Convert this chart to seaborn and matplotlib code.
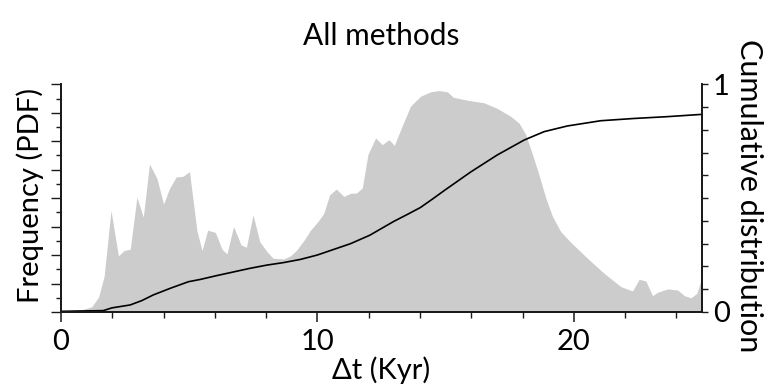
import numpy as np
import pandas as pd
import seaborn as sns
import matplotlib
matplotlib.use("Agg")
import matplotlib.pyplot as plt
from matplotlib.ticker import MultipleLocator, FixedLocator, NullFormatter

# ---- data ----
pdf_t = [0, 0.87, 1.2, 1.46, 1.68, 1.95, 2.24, 2.46, 2.70, 2.96, 3.21, 3.45, 3.74,
         4.0, 4.22, 4.49, 4.75, 5.01, 5.3, 5.5, 5.72, 6.02, 6.28, 6.47, 6.73, 7.02,
         7.23, 7.49, 7.75, 8.03, 8.27, 8.68, 8.95, 9.2, 9.47, 9.73, 9.99, 10.24,
         10.48, 10.74, 11.03, 11.29, 11.52, 11.75, 11.97, 12.27, 12.53, 12.79, 13.0,
         13.3, 13.63, 14.02, 14.41, 14.74, 15.07, 15.3, 15.85, 16.5, 17.02, 17.54,
         17.86, 18.13, 18.39, 18.64, 18.91, 19.17, 19.49, 19.88, 20.53, 21.18, 21.84,
         22.29, 22.55, 22.81, 23.07, 23.27, 23.66, 24.05, 24.31, 24.57, 24.8, 25.0]
pdf_v = [0.05, 0.19, 0.37, 1.03, 2.49, 7.13, 3.94, 4.32, 4.41, 8.07, 6.67, 10.4, 9.4,
         7.58, 8.64, 9.49, 9.53, 9.86, 5.73, 4.32, 5.75, 5.59, 4.41, 4.08, 6.01, 4.72,
         4.55, 6.83, 4.95, 4.25, 3.78, 3.73, 3.94, 4.37, 5.02, 5.75, 6.29, 6.9,
         8.24, 8.64, 8.12, 8.34, 8.36, 8.71, 11.06, 12.23, 11.76, 12.11, 11.71,
         13.05, 14.46, 15.16, 15.47, 15.56, 15.47, 15.09, 14.88, 14.7, 14.3, 13.75,
         13.28, 12.46, 11.06, 9.65, 8.0, 6.71, 5.65, 4.9, 3.78, 2.72, 1.78,
         1.48, 2.3, 2.18, 1.15, 1.39, 1.62, 1.55, 1.15, 1.0, 1.31, 2.49]

cdf_t = [0, 1.65, 1.98, 2.7, 3.15, 3.6, 4.26, 4.97, 5.43, 6.08, 6.73, 7.38, 8.03,
         8.68, 9.34, 9.99, 10.64, 11.29, 12.04, 12.98, 13.5, 14.02, 14.5, 14.93,
         15.98, 17.02, 18.06, 18.84, 19.75, 21.05, 22.36, 23.66, 25.0]
cdf_v = [0.003, 0.006, 0.018, 0.031, 0.05, 0.075, 0.104, 0.133, 0.143, 0.16, 0.176,
         0.192, 0.206, 0.217, 0.231, 0.25, 0.275, 0.30, 0.337, 0.398, 0.428, 0.459,
         0.497, 0.532, 0.615, 0.69, 0.755, 0.792, 0.817, 0.84, 0.85, 0.858, 0.868]

x_ticks = [0, 10, 20]
right_ticks = [0, 1]

title = "All methods"
xlabel = "\u0394t (Kyr)"
ylabel_left = "Frequency (PDF)"
ylabel_right = "Cumulative distribution"

# ---- styling ----
sns.set_theme(style="white")
plt.rcParams['font.family'] = ['Lato', 'DejaVu Sans']
plt.rcParams['text.color'] = 'black'
plt.rcParams['axes.labelcolor'] = 'black'
plt.rcParams['xtick.color'] = 'black'
plt.rcParams['ytick.color'] = 'black'
FS = 21

pdf_df = pd.DataFrame({"t": pdf_t, "v": pdf_v})
cdf_df = pd.DataFrame({"t": cdf_t, "c": cdf_v})

fig = plt.figure(figsize=(7.68, 3.91), dpi=100)
ax = fig.add_axes([61/768, 1-312/391, (702-61)/768, (312-84.3)/391])

ax.fill_between(pdf_df["t"], 0, pdf_df["v"], color="#cccccc", linewidth=0, zorder=1)
ax.set_xlim(0, 25)
ax.set_ylim(0, 16)

ax2 = ax.twinx()
sns.lineplot(data=cdf_df, x="t", y="c", ax=ax2, color="black", linewidth=1.2)
ax2.set_ylim(0, 1)
ax2.set_xlim(0, 25)

spine_c = "#1a1a1a"
for a in (ax, ax2):
    for s in a.spines.values():
        s.set_color(spine_c)
        s.set_linewidth(1.3)
    a.spines['top'].set_visible(False)

# x ticks
ax.xaxis.set_major_locator(FixedLocator(x_ticks))
ax.xaxis.set_minor_locator(MultipleLocator(2))
ax.tick_params(axis='x', which='major', length=7, width=1.1, color=spine_c,
               labelsize=FS, pad=5, direction='out', bottom=True)
ax.tick_params(axis='x', which='minor', length=4, width=1.0, color=spine_c,
               direction='out', bottom=True)
# left y ticks (no labels)
ax.yaxis.set_major_locator(MultipleLocator(2))
ax.yaxis.set_minor_locator(MultipleLocator(1))
ax.yaxis.set_major_formatter(NullFormatter())
ax.tick_params(axis='y', which='major', length=7, width=1.0, color=spine_c,
               direction='out', left=True)
ax.tick_params(axis='y', which='minor', length=3.5, width=1.0, color=spine_c,
               direction='out', left=True)
# right y ticks
ax2.yaxis.set_major_locator(FixedLocator(right_ticks))
ax2.yaxis.set_minor_locator(MultipleLocator(0.1))
ax2.tick_params(axis='y', which='major', length=4, width=1.0, color=spine_c,
                labelsize=FS, pad=4, direction='out', right=True)
ax2.tick_params(axis='y', which='minor', length=4, width=1.0, color=spine_c,
                direction='out', right=True)

ax.set_xlabel(xlabel, fontsize=FS, va='center', ha='center')
ax.xaxis.set_label_coords(0.5, -0.255)
ax.set_ylabel(ylabel_left, fontsize=FS, va='center', ha='center')
ax.yaxis.set_label_coords(-0.048, 0.51)
ax2.set_ylabel(ylabel_right, fontsize=22, rotation=270, va='center', ha='center')
ax2.yaxis.set_label_coords(1.073, 0.51)
ax.set_title(title, fontsize=21.5, pad=28)

fig.savefig("out.png", dpi=100)
